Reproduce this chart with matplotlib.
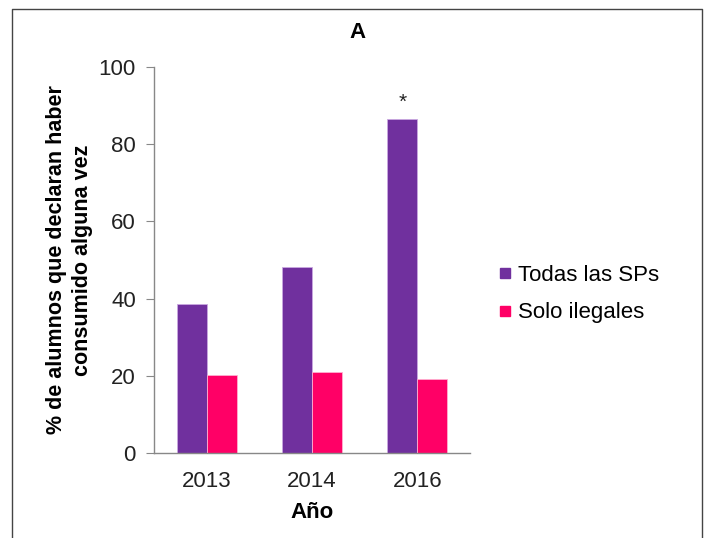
import matplotlib.pyplot as plt
import numpy as np
from matplotlib.lines import Line2D

years = ["2013", "2014", "2016"]
todas = [38.6, 48.1, 86.5]
solo = [20.3, 21.0, 19.3]
series_names = ["Todas las SPs", "Solo ilegales"]
colors = ["#70309e", "#ff0066"]

plt.rcParams['font.family'] = ['Liberation Sans', 'DejaVu Sans']

fig = plt.figure(figsize=(7.06, 5.38), dpi=100)
ax = fig.add_axes([154 / 706, 1 - 453 / 538, 316 / 706, 386 / 538])

x = np.arange(len(years))
w = 0.286
ax.bar(x - w / 2, todas, w, color=colors[0], edgecolor="#c9a8e0", linewidth=0.6)
ax.bar(x + w / 2, solo, w, color=colors[1], edgecolor="#ffb0d0", linewidth=0.6)
ax.text(x[2] - w / 2, todas[2] + 2.0, "*", ha="center", va="bottom", fontsize=15, color="#222222")

ax.set_xlim(-0.5, 2.5)
ax.set_ylim(0, 100)
ax.set_yticks([0, 20, 40, 60, 80, 100])
ax.set_xticks(x)
ax.set_xticklabels(years)
ax.tick_params(axis="y", length=6, color="#888888", labelsize=16, pad=7, labelcolor="#222222")
ax.tick_params(axis="x", length=0, labelsize=16, pad=13, labelcolor="#222222")
for s in ["top", "right"]:
    ax.spines[s].set_visible(False)
for s in ["left", "bottom"]:
    ax.spines[s].set_color("#888888")
    ax.spines[s].set_linewidth(1)

fig.text(358 / 706, 1 - 33 / 538, "A", ha="center", va="center", fontsize=16, fontweight="bold")
ax.set_xlabel("Año", fontsize=16, fontweight="bold", labelpad=7)
ax.set_ylabel("% de alumnos que declaran haber\nconsumido alguna vez", fontsize=15.5, fontweight="bold",
              labelpad=4, linespacing=1.35)

handles = [Line2D([], [], marker="s", linestyle="", markersize=7.5, color=c) for c in colors]
fig.legend(handles, series_names, loc="center left", bbox_to_anchor=(478 / 706, 1 - 294 / 538),
           frameon=False, fontsize=16, handlelength=0.6, handletextpad=0.3, labelspacing=0.75)

# outer frame
fx = [12 / 706, 12 / 706, 702 / 706, 702 / 706]
fy = [-0.01, 1 - 9 / 538, 1 - 9 / 538, -0.01]
fig.add_artist(Line2D(fx, fy, transform=fig.transFigure, color="#444444", linewidth=1))

fig.savefig("out.png", dpi=100)
